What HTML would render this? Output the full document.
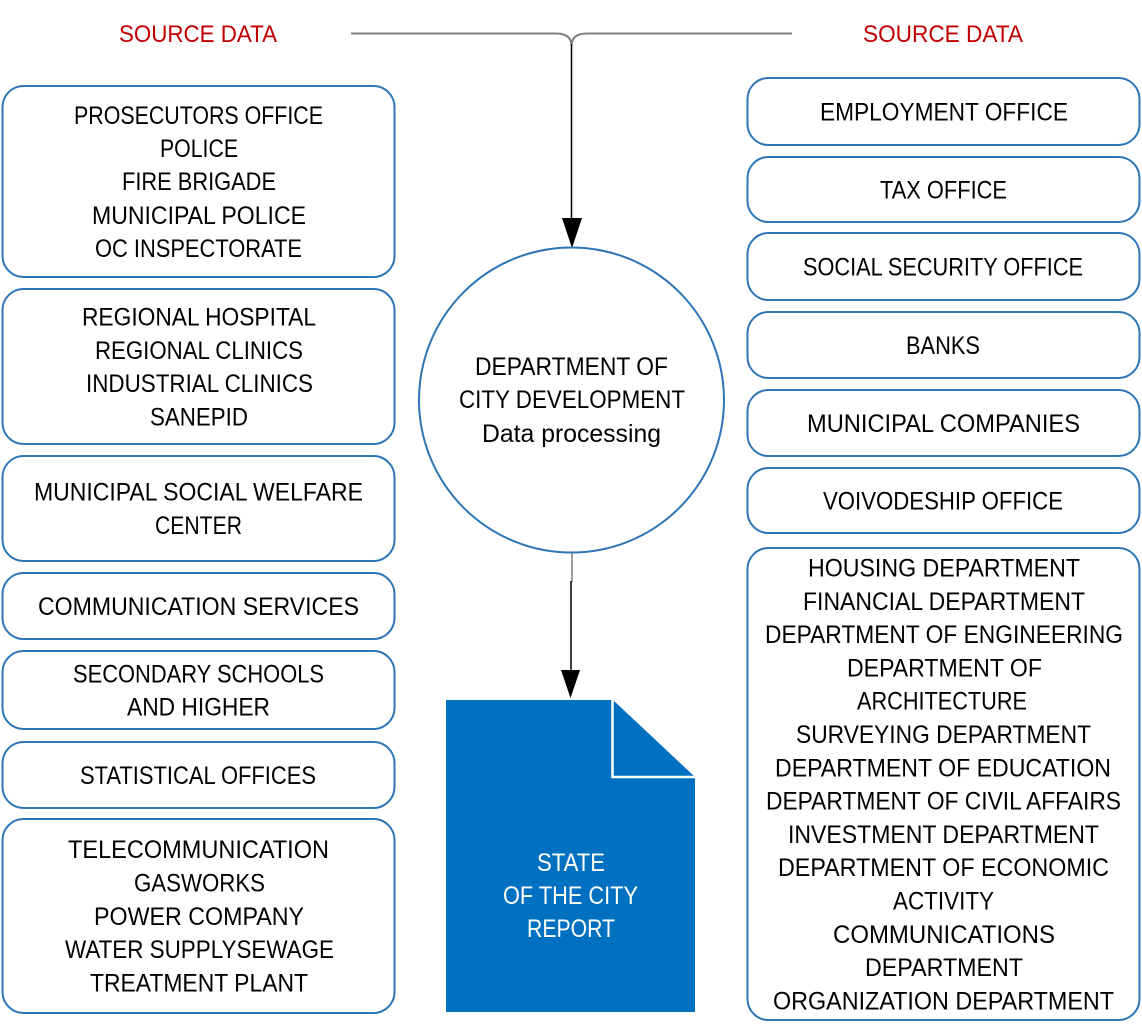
<!DOCTYPE html>
<html><head><meta charset="utf-8"><style>
html,body{margin:0;padding:0;background:#fff;}
svg{display:block;}
text{font-family:"Liberation Sans",sans-serif;font-size:25px;fill:#000;}
.r{fill:#c00000;font-size:24px;}
.w{fill:#fff;}
</style></head><body>
<svg width="1142" height="1031" viewBox="0 0 1142 1031" xmlns="http://www.w3.org/2000/svg">
<rect width="1142" height="1031" fill="#fff"/>
<g text-anchor="middle" lengthAdjust="spacingAndGlyphs">
<text class="r" x="198" y="42" textLength="158" lengthAdjust="spacingAndGlyphs">SOURCE DATA</text>
<text class="r" x="943" y="42" textLength="160" lengthAdjust="spacingAndGlyphs">SOURCE DATA</text>
</g>
<!-- top connector -->
<g fill="none">
<path d="M351,33.5 H556 Q571.5,33.5 571.5,46" stroke="#7f7f7f" stroke-width="2"/>
<path d="M792,33.5 H587 Q571.5,33.5 571.5,46" stroke="#7f7f7f" stroke-width="2"/>
<line x1="571.5" y1="44" x2="571.5" y2="220" stroke="#000" stroke-width="1.5"/>
</g>
<polygon points="562,218 582,218 572,248" fill="#000"/>
<!-- bottom connector -->
<line x1="572" y1="553" x2="572" y2="582" stroke="#7f7f7f" stroke-width="1.5"/>
<line x1="571" y1="581" x2="571" y2="672" stroke="#000" stroke-width="1.5"/>
<polygon points="561,670 580,670 570.5,698" fill="#000"/>
<!-- boxes left -->
<g fill="#fff" stroke="#2e75b6" stroke-width="2">
<rect x="2.5" y="86" width="392" height="191" rx="21"/>
<rect x="2.5" y="289" width="392" height="155" rx="21"/>
<rect x="2.5" y="456" width="392" height="105" rx="21"/>
<rect x="2.5" y="573" width="392" height="66" rx="21"/>
<rect x="2.5" y="651" width="392" height="78" rx="21"/>
<rect x="2.5" y="742" width="392" height="66" rx="21"/>
<rect x="2.5" y="819" width="392" height="194" rx="21"/>
<rect x="747.5" y="78" width="392" height="67" rx="21"/>
<rect x="747.5" y="157" width="392" height="65" rx="21"/>
<rect x="747.5" y="233" width="392" height="67" rx="21"/>
<rect x="747.5" y="312" width="392" height="66" rx="21"/>
<rect x="747.5" y="390" width="392" height="66" rx="21"/>
<rect x="747.5" y="468" width="392" height="65" rx="21"/>
<rect x="747.5" y="548" width="392" height="472" rx="21"/>
<circle cx="571.5" cy="400" r="152.5"/>
</g>
<!-- document -->
<polygon points="446,700 613,700 695,777 695,1012 446,1012" fill="#0070c0"/>
<polyline points="612.5,700 612.5,777 695,777" fill="none" stroke="#fff" stroke-width="2.5"/>
<g text-anchor="middle">
<!-- left texts -->
<text x="198.5" y="124" textLength="249" lengthAdjust="spacingAndGlyphs">PROSECUTORS OFFICE</text>
<text x="199" y="157" textLength="78" lengthAdjust="spacingAndGlyphs">POLICE</text>
<text x="199" y="190" textLength="154" lengthAdjust="spacingAndGlyphs">FIRE BRIGADE</text>
<text x="199" y="224" textLength="214" lengthAdjust="spacingAndGlyphs">MUNICIPAL POLICE</text>
<text x="198.5" y="257" textLength="207" lengthAdjust="spacingAndGlyphs">OC INSPECTORATE</text>
<text x="199" y="325.5" textLength="234" lengthAdjust="spacingAndGlyphs">REGIONAL HOSPITAL</text>
<text x="199" y="359" textLength="208" lengthAdjust="spacingAndGlyphs">REGIONAL CLINICS</text>
<text x="199.5" y="392" textLength="227" lengthAdjust="spacingAndGlyphs">INDUSTRIAL CLINICS</text>
<text x="199" y="425.5" textLength="98" lengthAdjust="spacingAndGlyphs">SANEPID</text>
<text x="198.5" y="500.5" textLength="329" lengthAdjust="spacingAndGlyphs">MUNICIPAL SOCIAL WELFARE</text>
<text x="198.5" y="534" textLength="87" lengthAdjust="spacingAndGlyphs">CENTER</text>
<text x="198.5" y="615" textLength="321" lengthAdjust="spacingAndGlyphs">COMMUNICATION SERVICES</text>
<text x="198.5" y="682.5" textLength="251" lengthAdjust="spacingAndGlyphs">SECONDARY SCHOOLS</text>
<text x="198.5" y="715.5" textLength="143" lengthAdjust="spacingAndGlyphs">AND HIGHER</text>
<text x="198" y="784" textLength="236" lengthAdjust="spacingAndGlyphs">STATISTICAL OFFICES</text>
<text x="198.5" y="858" textLength="261" lengthAdjust="spacingAndGlyphs">TELECOMMUNICATION</text>
<text x="199.5" y="891.5" textLength="131" lengthAdjust="spacingAndGlyphs">GASWORKS</text>
<text x="199" y="925" textLength="210" lengthAdjust="spacingAndGlyphs">POWER COMPANY</text>
<text x="199.5" y="958" textLength="269" lengthAdjust="spacingAndGlyphs">WATER SUPPLYSEWAGE</text>
<text x="199" y="991.5" textLength="218" lengthAdjust="spacingAndGlyphs">TREATMENT PLANT</text>
<!-- right texts -->
<text x="944" y="120.5" textLength="248" lengthAdjust="spacingAndGlyphs">EMPLOYMENT OFFICE</text>
<text x="943.5" y="198.5" textLength="127" lengthAdjust="spacingAndGlyphs">TAX OFFICE</text>
<text x="943" y="275.5" textLength="280" lengthAdjust="spacingAndGlyphs">SOCIAL SECURITY OFFICE</text>
<text x="943" y="354" textLength="74" lengthAdjust="spacingAndGlyphs">BANKS</text>
<text x="943.5" y="432" textLength="273" lengthAdjust="spacingAndGlyphs">MUNICIPAL COMPANIES</text>
<text x="943" y="509.5" textLength="240" lengthAdjust="spacingAndGlyphs">VOIVODESHIP OFFICE</text>
<text x="944" y="576.5" textLength="272" lengthAdjust="spacingAndGlyphs">HOUSING DEPARTMENT</text>
<text x="944" y="609.8" textLength="282" lengthAdjust="spacingAndGlyphs">FINANCIAL DEPARTMENT</text>
<text x="944" y="643.1" textLength="358" lengthAdjust="spacingAndGlyphs">DEPARTMENT OF ENGINEERING</text>
<text x="944.5" y="676.4" textLength="195" lengthAdjust="spacingAndGlyphs">DEPARTMENT OF</text>
<text x="942" y="709.7" textLength="170" lengthAdjust="spacingAndGlyphs">ARCHITECTURE</text>
<text x="943.5" y="743" textLength="295" lengthAdjust="spacingAndGlyphs">SURVEYING DEPARTMENT</text>
<text x="943" y="776.3" textLength="336" lengthAdjust="spacingAndGlyphs">DEPARTMENT OF EDUCATION</text>
<text x="943.5" y="809.6" textLength="355" lengthAdjust="spacingAndGlyphs">DEPARTMENT OF CIVIL AFFAIRS</text>
<text x="943.5" y="842.9" textLength="311" lengthAdjust="spacingAndGlyphs">INVESTMENT DEPARTMENT</text>
<text x="943.5" y="876.2" textLength="331" lengthAdjust="spacingAndGlyphs">DEPARTMENT OF ECONOMIC</text>
<text x="943.5" y="909.5" textLength="101" lengthAdjust="spacingAndGlyphs">ACTIVITY</text>
<text x="944" y="942.8" textLength="222" lengthAdjust="spacingAndGlyphs">COMMUNICATIONS</text>
<text x="944" y="976.1" textLength="158" lengthAdjust="spacingAndGlyphs">DEPARTMENT</text>
<text x="943.5" y="1009.4" textLength="341" lengthAdjust="spacingAndGlyphs">ORGANIZATION DEPARTMENT</text>
<!-- circle -->
<text x="571.5" y="375" textLength="193" lengthAdjust="spacingAndGlyphs">DEPARTMENT OF</text>
<text x="572" y="408" textLength="226" lengthAdjust="spacingAndGlyphs">CITY DEVELOPMENT</text>
<text x="571.5" y="442" textLength="179" lengthAdjust="spacingAndGlyphs">Data processing</text>
<!-- document -->
<text class="w" x="571" y="871" textLength="68" lengthAdjust="spacingAndGlyphs">STATE</text>
<text class="w" x="570.5" y="904" textLength="135" lengthAdjust="spacingAndGlyphs">OF THE CITY</text>
<text class="w" x="571" y="937" textLength="88" lengthAdjust="spacingAndGlyphs">REPORT</text>
</g>
</svg>
</body></html>
